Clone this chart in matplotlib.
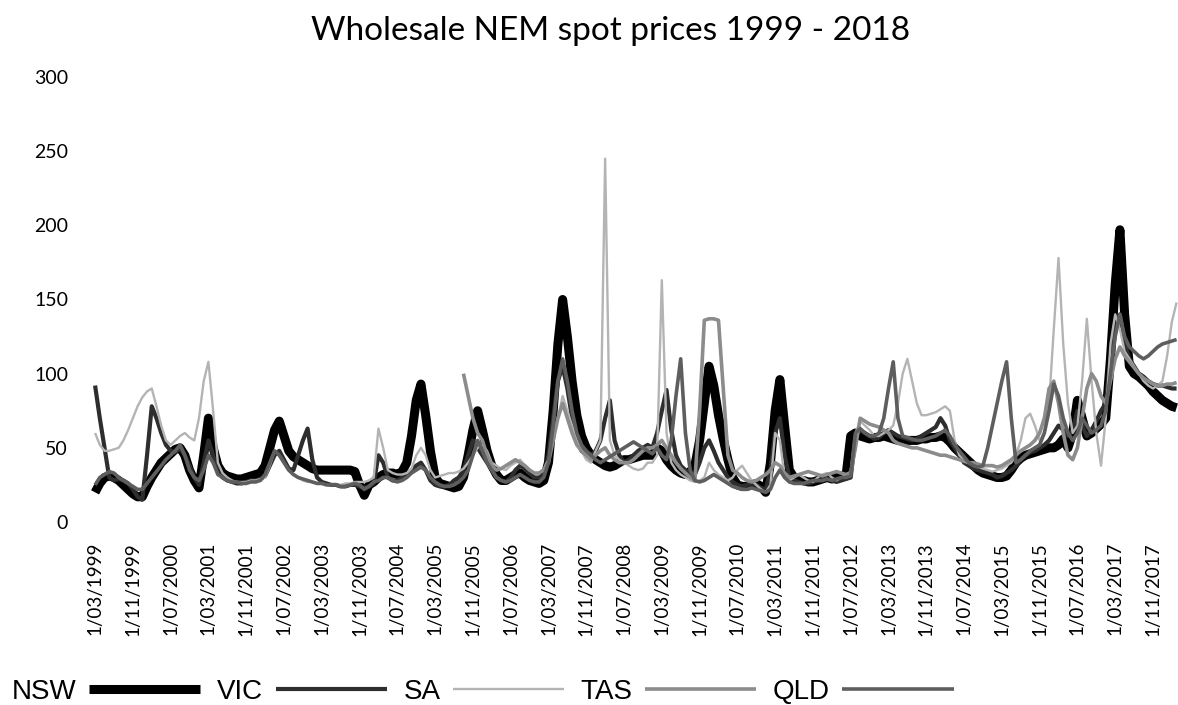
import numpy as np
import pandas as pd
import matplotlib
matplotlib.use('Agg')
import matplotlib.pyplot as plt

# monthly averages, Mar 1999 .. Apr 2018 (one row per year)
months = pd.date_range('1999-03-01', '2018-04-01', freq='MS')

nsw = [20, 26, 30, 31, 30, 28, 25, 22, 19, 17,
       17, 24, 30, 35, 40, 43, 46, 49, 50, 45, 35, 28,
       23, 45, 70, 50, 38, 33, 31, 30, 29, 29, 30, 31,
       32, 33, 38, 50, 62, 68, 58, 48, 44, 42, 40, 38,
       36, 35, 35, 35, 35, 35, 35, 35, 35, 34, 25, 18,
       25, 27, 30, 32, 33, 33, 32, 34, 40, 58, 82, 93,
       72, 48, 30, 26, 25, 24, 23, 24, 30, 45, 62, 75,
       62, 48, 38, 32, 28, 28, 30, 32, 33, 30, 28, 27,
       26, 28, 40, 75, 120, 150, 125, 95, 72, 58, 50, 45,
       42, 40, 38, 37, 38, 40, 42, 42, 43, 44, 45, 45,
       45, 50, 48, 42, 38, 35, 33, 32, 34, 38, 55, 80,
       105, 92, 72, 56, 42, 30, 25, 24, 24, 25, 26, 24,
       20, 40, 75, 96, 65, 35, 30, 28, 28, 27, 27, 28,
       29, 30, 29, 30, 31, 31, 58, 60, 58, 57, 56, 57,
       57, 58, 57, 56, 55, 55, 55, 55, 55, 56, 56, 57,
       57, 58, 57, 54, 50, 47, 44, 41, 38, 35, 33, 32,
       31, 30, 30, 31, 35, 40, 43, 45, 46, 47, 48, 49,
       50, 50, 52, 56, 50, 60, 82, 70, 58, 60, 63, 66,
       70, 110, 160, 197, 140, 105, 100, 98, 95, 92, 88, 85,
       82, 80, 78, 77]

vic = [92, 70, 50, 30, 28, 29, 28, 26, 22, 17,
       15, 45, 78, 70, 60, 52, 48, 47, 50, 45, 38, 30,
       25, 40, 55, 45, 35, 30, 28, 27, 26, 26, 27, 28,
       28, 29, 31, 38, 45, 48, 42, 36, 35, 45, 55, 63,
       42, 30, 27, 26, 25, 25, 24, 24, 25, 25, 24, 23,
       24, 26, 45, 40, 30, 28, 28, 30, 32, 35, 38, 40,
       35, 28, 25, 24, 24, 25, 28, 30, 35, 45, 55, 50,
       45, 40, 35, 30, 28, 27, 30, 35, 38, 36, 33, 30,
       30, 32, 45, 70, 95, 105, 90, 70, 55, 48, 45, 45,
       48, 55, 70, 82, 55, 45, 40, 42, 45, 48, 50, 52,
       50, 60, 75, 89, 62, 45, 38, 35, 33, 32, 40, 50,
       55, 48, 40, 35, 30, 27, 25, 24, 25, 26, 25, 23,
       22, 35, 60, 70, 45, 30, 28, 27, 26, 26, 27, 28,
       28, 29, 28, 27, 28, 29, 30, 58, 62, 60, 58, 56,
       57, 60, 62, 60, 58, 57, 56, 55, 56, 58, 60, 62,
       64, 70, 65, 55, 50, 45, 40, 38, 36, 35, 34, 33,
       32, 30, 31, 33, 35, 38, 42, 45, 47, 48, 50, 52,
       55, 60, 65, 62, 58, 62, 75, 65, 58, 62, 68, 75,
       80, 110, 130, 140, 120, 110, 105, 100, 98, 95, 93, 92,
       92, 91, 90, 90]

sa = [60, 52, 48, 48, 49, 50, 55, 62, 70, 78,
      84, 88, 90, 78, 65, 55, 52, 55, 58, 60, 57, 55,
      70, 95, 108, 75, 40, 33, 30, 28, 27, 27, 27, 28,
      28, 29, 30, 38, 48, 45, 40, 35, 32, 30, 28, 27,
      27, 26, 26, 25, 25, 25, 25, 26, 26, 27, 27, 27,
      28, 30, 63, 50, 35, 33, 32, 32, 33, 36, 45, 50,
      45, 35, 30, 31, 32, 33, 33, 34, 36, 40, 45, 50,
      52, 48, 40, 38, 36, 35, 38, 40, 42, 38, 35, 33,
      33, 36, 42, 55, 70, 85, 75, 65, 55, 48, 42, 40,
      48, 55, 245, 55, 45, 42, 40, 38, 36, 35, 36, 40,
      40, 45, 163, 60, 40, 35, 32, 30, 28, 27, 28, 30,
      40, 35, 32, 30, 28, 30, 35, 38, 33, 28, 25, 22,
      20, 25, 60, 55, 30, 28, 30, 32, 30, 28, 27, 30,
      32, 33, 30, 28, 30, 32, 34, 60, 68, 65, 62, 58,
      58, 60, 62, 65, 80, 100, 110, 95, 80, 72, 72, 73,
      74, 76, 78, 75, 55, 45, 42, 40, 38, 37, 36, 35,
      34, 35, 36, 38, 40, 45, 55, 70, 73, 65, 55, 60,
      80, 130, 178, 120, 80, 60, 65, 95, 137, 95, 60, 38,
      70, 120, 140, 130, 115, 110, 105, 100, 95, 92, 90, 92,
      95, 112, 135, 148]

nan = np.nan
tas = [nan] * 78 + [100, 85, 70, 60,
       55, 45, 38, 35, 36, 38, 40, 42, 40, 38, 35, 33,
       33, 35, 40, 55, 70, 80, 70, 60, 52, 48, 45, 42,
       45, 48, 50, 45, 42, 40, 40, 40, 42, 45, 48, 50,
       50, 52, 55, 50, 45, 40, 36, 33, 30, 28, 75, 136,
       137, 137, 136, 90, 45, 35, 33, 30, 28, 27, 28, 30,
       32, 35, 40, 38, 33, 30, 31, 32, 33, 34, 33, 32,
       31, 32, 33, 34, 33, 32, 33, 50, 70, 68, 66, 65,
       64, 62, 60, 55, 53, 52, 51, 50, 50, 49, 48, 47,
       46, 45, 45, 44, 43, 42, 41, 40, 40, 39, 38, 38,
       38, 37, 38, 40, 42, 45, 48, 50, 52, 55, 60, 70,
       90, 95, 80, 60, 45, 42, 50, 70, 90, 100, 95, 85,
       80, 95, 110, 118, 112, 108, 104, 100, 97, 95, 93, 92,
       92, 93, 93, 94]

qld = [25, 30, 32, 34, 33, 30, 28, 26, 24, 22,
       22, 26, 30, 34, 38, 42, 45, 48, 52, 45, 35, 30,
       28, 35, 45, 40, 32, 30, 28, 27, 27, 26, 26, 27,
       27, 28, 32, 40, 48, 45, 40, 35, 32, 30, 29, 28,
       27, 26, 26, 25, 25, 25, 24, 24, 25, 26, 25, 22,
       24, 27, 28, 30, 30, 28, 27, 28, 30, 33, 35, 37,
       35, 30, 27, 25, 24, 24, 25, 27, 30, 35, 45, 55,
       48, 40, 35, 30, 28, 27, 28, 30, 32, 30, 28, 27,
       27, 30, 40, 65, 95, 110, 95, 75, 60, 52, 48, 45,
       42, 40, 42, 44, 46, 48, 50, 52, 54, 52, 50, 48,
       46, 50, 45, 42, 55, 85, 110, 60, 35, 28, 27, 28,
       30, 32, 30, 28, 26, 24, 23, 22, 22, 23, 22, 21,
       20, 22, 30, 35, 30, 27, 26, 26, 26, 27, 28, 28,
       28, 29, 28, 29, 30, 30, 31, 60, 63, 60, 58, 58,
       60, 70, 90, 108, 70, 58, 57, 56, 55, 55, 56, 57,
       58, 60, 62, 58, 52, 48, 44, 40, 38, 37, 38, 50,
       65, 80, 95, 108, 70, 40, 42, 45, 48, 50, 52, 60,
       75, 93, 85, 70, 60, 55, 60, 70, 65, 60, 62, 65,
       75, 100, 125, 140, 125, 118, 115, 112, 110, 112, 115, 118,
       120, 121, 122, 123]

names = ['NSW', 'VIC', 'SA', 'TAS', 'QLD']
series = [nsw, vic, sa, tas, qld]
colors = ['#000000', '#2e2e2e', '#b4b4b4', '#8c8c8c', '#5e5e5e']
widths = [6.5, 3.0, 1.7, 2.6, 2.6]

x = np.arange(len(months))
ticklabels = [f"{d.day}/{d.month:02d}/{d.year}" for d in months[::8]]

fig = plt.figure(figsize=(11.78, 7.05), dpi=100)
ax = fig.add_axes([88/1178, 183/705, 1090/1178, 445/705])

for name, vals, c, lw in zip(names, series, colors, widths):
    ax.plot(x, vals, color=c, lw=lw, label=name, solid_joinstyle='round',
            solid_capstyle='butt', clip_on=False)

ax.set_xlim(-1.5, 229.3)
ax.set_ylim(0, 300)
ax.set_yticks(range(0, 301, 50))
ax.set_xticks(x[::8])
ax.set_xticklabels(ticklabels, rotation=90, fontsize=13.5, family='Lato')
for t in ax.get_yticklabels():
    t.set_fontsize(14)
    t.set_family('Lato')
ax.tick_params(axis='both', length=0, pad=14.4)
for s in ax.spines.values():
    s.set_visible(False)

fig.text(611/1178, 1 - 40/705, 'Wholesale NEM spot prices 1999 - 2018',
         ha='center', va='baseline', fontsize=24, family='Lato')

ax.legend(markerfirst=False, ncol=5, frameon=False, loc='lower left',
          bbox_to_anchor=(12/1178, 0.0), bbox_transform=fig.transFigure,
          prop={'family': 'Liberation Sans', 'size': 20},
          handlelength=4, handletextpad=0.45, columnspacing=0.6,
          borderpad=0, borderaxespad=0)

fig.savefig('out.png', dpi=100)
